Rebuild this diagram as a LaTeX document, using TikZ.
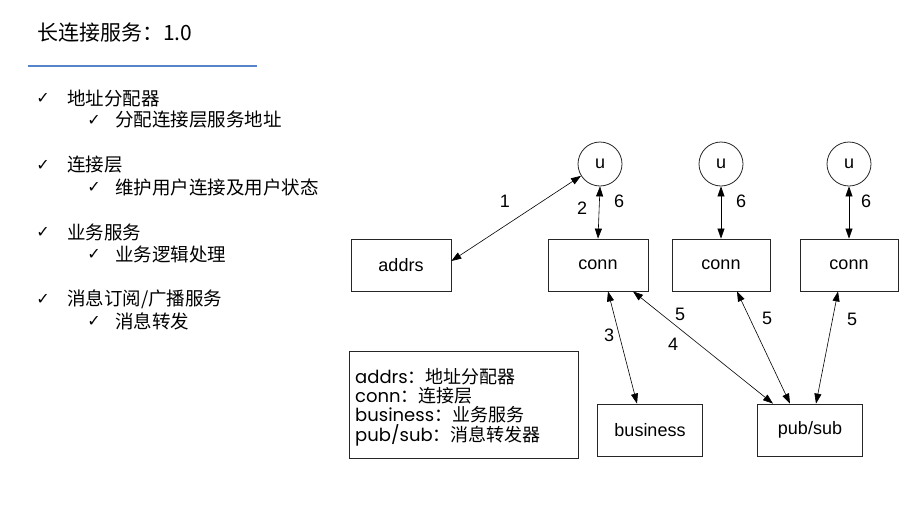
\documentclass[tikz,border=0pt]{standalone}
\usepackage{fontspec}
\setmainfont{Liberation Sans}
\newfontfamily\cjk{Noto Sans CJK SC}
\newfontfamily\symf{DejaVu Sans}
\newfontfamily\legf{Poppins}
\usetikzlibrary{arrows.meta}
\definecolor{titleblue}{RGB}{86,132,200}
\tikzset{
  box/.style={draw=black!85, line width=0.8pt, minimum width=100pt, minimum height=52pt, inner sep=0pt, font=\fontsize{18}{21}\selectfont},
  ucirc/.style={draw=black!85, line width=0.8pt, circle, minimum size=44pt, inner sep=0pt, font=\fontsize{18}{21}\selectfont},
  conn/.style={{Triangle[length=10pt,width=7pt]}-{Triangle[length=10pt,width=7pt]}, line width=0.6pt},
  num/.style={font=\fontsize{18}{21}\selectfont, inner sep=0pt},
  lvlone/.style={anchor=west, inner sep=0pt, font=\cjk\fontsize{18.5}{22}\selectfont},
  chk/.style={inner sep=0pt, font=\symf\fontsize{16}{18}\selectfont},
  leg/.style={anchor=west, inner sep=0pt, font=\fontsize{18}{21}\selectfont}
}
\begin{document}
\begin{tikzpicture}[x=1pt,y=-1pt]
\useasboundingbox (0,0) rectangle (916,509);
% title
\node[anchor=west, inner sep=0pt, font=\cjk\fontsize{21}{25}\selectfont] (title) at (37,33) {长连接服务：1.0};
\coordinate (rl) at (28,66);
\coordinate (rr) at (257,66);
\draw[titleblue, line width=2.6pt] (rl) -- (rr);
% list
\node[chk] (c1) at (43,98) {✓};
\node[lvlone] (t1) at (67,98) {地址分配器};
\node[chk] (c1a) at (94,120) {✓};
\node[lvlone] (t1a) at (115,120) {分配连接层服务地址};
\node[chk] (c2) at (43,165) {✓};
\node[lvlone] (t2) at (67,165) {连接层};
\node[chk] (c2a) at (94,187) {✓};
\node[lvlone] (t2a) at (115,187) {维护用户连接及用户状态};
\node[chk] (c3) at (43,232) {✓};
\node[lvlone] (t3) at (67,232) {业务服务};
\node[chk] (c3a) at (94,254) {✓};
\node[lvlone] (t3a) at (115,254) {业务逻辑处理};
\node[chk] (c4) at (43,299) {✓};
\node[lvlone] (t4) at (67,299) {消息订阅/广播服务};
\node[chk] (c4a) at (94,321) {✓};
\node[lvlone] (t4a) at (115,321) {消息转发};
% diagram nodes
\node[ucirc] (u1) at (600,164) {u};
\node[ucirc] (u2) at (721,164) {u};
\node[ucirc] (u3) at (849,164) {u};
\node[box] (addrs) at (401,265) {addrs};
\node[box] (conn1) at (598,265) {conn};
\node[box, minimum width=98pt] (conn2) at (721,265) {conn};
\node[box, minimum width=98pt] (conn3) at (849,265) {conn};
\node[box, minimum width=105pt] (business) at (650,430) {business};
\node[box, minimum width=105pt] (pubsub) at (810,430) {pub/sub};
% connectors
\draw[conn] (u1.212) -- ([yshift=4pt]addrs.east);
\draw[conn] (u1.south) -- (conn1.north);
\draw[conn] (u2.south) -- (conn2.north);
\draw[conn] (u3.south) -- (conn3.north);
\draw[conn] ([xshift=10pt]conn1.south) -- ([xshift=-13pt]business.north);
\draw[conn] ([xshift=35pt]conn1.south) -- ([xshift=-37pt]pubsub.north);
\draw[conn] ([xshift=16pt]conn2.south) -- ([xshift=-20pt]pubsub.north);
\draw[conn] ([xshift=-11pt]conn3.south) -- ([xshift=6pt]pubsub.north);
% numbers
\node[num] (n1) at (505,201) {1};
\node[num] (n2) at (582,208) {2};
\node[num] (n6a) at (619,201) {6};
\node[num] (n6b) at (741,201) {6};
\node[num] (n6c) at (866,201) {6};
\node[num] (n3) at (609,335) {3};
\node[num] (n5a) at (680,314) {5};
\node[num] (n4) at (673,344) {4};
\node[num] (n5b) at (767,318) {5};
\node[num] (n5c) at (852,319) {5};
% legend
\node[draw=black!85, line width=0.8pt, minimum width=229pt, minimum height=107pt, inner sep=0pt] (legend) at (463.5,404.5) {};
\node[leg] (l1) at (355,377) {{\legf addrs}{\cjk ：地址分配器}};
\node[leg] (l2) at (355,396) {{\legf conn}{\cjk ：连接层}};
\node[leg] (l3) at (355,415) {{\legf business}{\cjk ：业务服务}};
\node[leg] (l4) at (355,435) {{\legf pub/sub}{\cjk ：消息转发器}};
\end{tikzpicture}
\end{document}
